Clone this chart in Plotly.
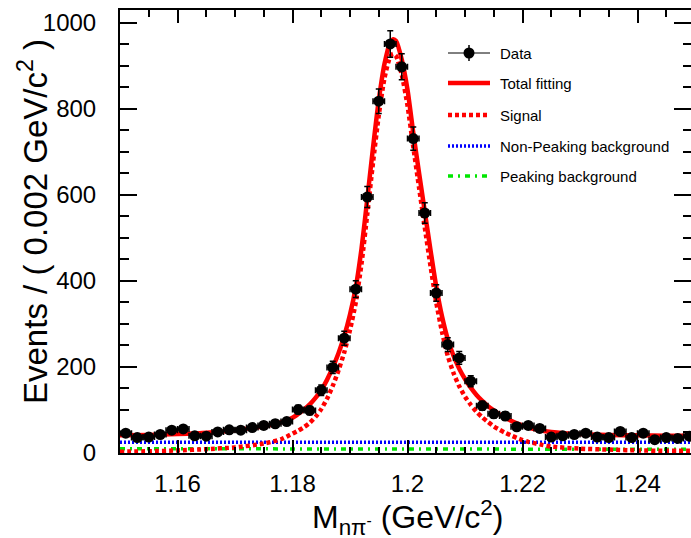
import plotly.graph_objects as go

# ---------------- data ----------------
bin_centers = [1.151, 1.153, 1.155, 1.157, 1.159, 1.161, 1.163, 1.165, 1.167, 1.169,
               1.171, 1.173, 1.175, 1.177, 1.179, 1.181, 1.183, 1.185, 1.187, 1.189,
               1.191, 1.193, 1.195, 1.197, 1.199, 1.201, 1.203, 1.205, 1.207, 1.209,
               1.211, 1.213, 1.215, 1.217, 1.219, 1.221, 1.223, 1.225, 1.227, 1.229,
               1.231, 1.233, 1.235, 1.237, 1.239, 1.241, 1.243, 1.245, 1.247, 1.249]
counts = [46, 36, 37, 43, 53, 56, 40, 39, 49, 54,
          53, 59, 64, 68, 73, 101, 99, 146, 199, 267,
          381, 595, 818, 951, 898, 731, 558, 372, 252, 221,
          167, 110, 91, 86, 61, 64, 57, 37, 40, 43,
          46, 37, 36, 50, 36, 46, 31, 36, 34, 39]
count_errors = [6.8, 6.0, 6.1, 6.6, 7.3, 7.5, 6.3, 6.2, 7.0, 7.3,
                7.3, 7.7, 8.0, 8.2, 8.5, 10.0, 9.9, 12.1, 14.1, 16.3,
                19.5, 24.4, 28.6, 30.8, 30.0, 27.0, 23.6, 19.3, 15.9, 14.9,
                12.9, 10.5, 9.5, 9.3, 7.8, 8.0, 7.5, 6.1, 6.3, 6.6,
                6.8, 6.1, 6.0, 7.1, 6.0, 6.8, 5.6, 6.0, 5.8, 6.2]
bin_half_width = 0.001

fit_x = [1.150, 1.155, 1.160, 1.165, 1.170, 1.175, 1.178,
         1.180, 1.181, 1.182, 1.183, 1.184, 1.185, 1.186, 1.187, 1.188, 1.189,
         1.190, 1.191, 1.192, 1.193, 1.194, 1.195, 1.196, 1.197, 1.1975, 1.198, 1.199,
         1.200, 1.201, 1.202, 1.203, 1.204, 1.205, 1.206, 1.207, 1.208, 1.209,
         1.210, 1.211, 1.212, 1.213, 1.214, 1.215, 1.216, 1.217, 1.218, 1.219,
         1.220, 1.221, 1.223, 1.225, 1.230, 1.235, 1.240, 1.245, 1.250]
total_fit = [41, 42, 44, 47, 53, 62, 71,
             82, 91, 101, 113, 128, 146, 170, 199, 232, 272,
             322, 385, 475, 590, 710, 820, 905, 955, 962, 958, 915,
             845, 745, 652, 562, 472, 387, 318, 265, 226, 196,
             172, 152, 135, 121, 109, 99, 90, 82, 75, 69,
             64, 59, 53, 49, 44, 42, 41, 40, 40]
signal_fit = [3, 4, 6, 9, 13, 22, 32,
              45, 52, 60, 70, 84, 102, 126, 156, 192, 234,
              286, 350, 440, 555, 675, 785, 872, 922, 928, 923, 880,
              808, 712, 618, 525, 435, 350, 282, 226, 186, 155,
              131, 112, 96, 83, 72, 62, 54, 47, 41, 35,
              30, 26, 20, 15, 10, 8, 6, 5, 5]
bkg_x = [1.150, 1.250]
nonpeaking_bkg = [25, 25]
peaking_bkg = [10, 8.5]

legend_labels = ["Data", "Total fitting", "Signal", "Non-Peaking background", "Peaking background"]
y_ticks = [0, 200, 400, 600, 800, 1000]
x_ticks = [1.16, 1.18, 1.20, 1.22, 1.24]
x_tick_text = ["1.16", "1.18", "1.2", "1.22", "1.24"]

# ---------------- figure ----------------
W, H = 691, 538
L, R, T, B = 120, 0, 10, 85
PW, PH = W - L - R, H - T - B
FONT = "Liberation Sans, Arial, Helvetica, sans-serif"

RED = "#ff0000"
BLUE = "#0000ff"
GREEN = "#00e600"

def px_x(p):
    return (p - L) / PW

def px_y(p):
    return (T + PH - p) / PH

fig = go.Figure()

fig.add_trace(go.Scatter(x=bkg_x, y=peaking_bkg, mode="lines",
                         line=dict(color=GREEN, width=3.5, dash="5px,5px,2px,5px"),
                         showlegend=False, hoverinfo="skip"))
fig.add_trace(go.Scatter(x=bkg_x, y=nonpeaking_bkg, mode="lines",
                         line=dict(color=BLUE, width=3.5, dash="2px,2px"),
                         showlegend=False, hoverinfo="skip"))
fig.add_trace(go.Scatter(x=fit_x, y=signal_fit, mode="lines",
                         line=dict(color=RED, width=4.5, dash="4px,3px", shape="spline", smoothing=0.6),
                         showlegend=False, hoverinfo="skip"))
fig.add_trace(go.Scatter(x=fit_x, y=total_fit, mode="lines",
                         line=dict(color=RED, width=4.5, shape="spline", smoothing=0.6),
                         showlegend=False, hoverinfo="skip"))
fig.add_trace(go.Scatter(x=bin_centers, y=counts, mode="markers",
                         marker=dict(color="black", size=11, symbol="circle"),
                         error_y=dict(type="data", array=count_errors, color="black", thickness=1.5, width=3),
                         error_x=dict(type="constant", value=bin_half_width, color="black", thickness=1.5, width=3),
                         showlegend=False))

# ---------- manual legend ----------
shapes = []
annotations = []
leg_rows = [53, 83, 115, 146, 176]
lx0, lx1, tx = 448, 490, 498
styles = [None,
          dict(color=RED, width=4.5),
          dict(color=RED, width=4.5, dash="4px,3px"),
          dict(color=BLUE, width=3.5, dash="2px,2px"),
          dict(color=GREEN, width=3.5, dash="5px,5px,2px,5px")]
for i, (lab, yy) in enumerate(zip(legend_labels, leg_rows)):
    if i == 0:
        shapes.append(dict(type="line", xref="paper", yref="paper",
                           x0=px_x(lx0), x1=px_x(lx1), y0=px_y(yy), y1=px_y(yy),
                           line=dict(color="black", width=1)))
        shapes.append(dict(type="line", xref="paper", yref="paper",
                           x0=px_x(469), x1=px_x(469), y0=px_y(yy - 8), y1=px_y(yy + 8),
                           line=dict(color="black", width=1.5)))
        shapes.append(dict(type="circle", xref="paper", yref="paper",
                           x0=px_x(469 - 5.5), x1=px_x(469 + 5.5), y0=px_y(yy - 5.5), y1=px_y(yy + 5.5),
                           fillcolor="black", line=dict(color="black", width=0)))
    else:
        shapes.append(dict(type="line", xref="paper", yref="paper",
                           x0=px_x(lx0), x1=px_x(lx1), y0=px_y(yy), y1=px_y(yy),
                           line=styles[i]))
    annotations.append(dict(text=lab, xref="paper", yref="paper", x=px_x(tx), y=px_y(yy),
                            xanchor="left", yanchor="middle", showarrow=False,
                            font=dict(family=FONT, size=15, color="black")))

# axis titles
annotations.append(dict(text="Events / ( 0.002 GeV/c<sup>2</sup> )", xref="paper", yref="paper",
                        x=px_x(33), y=px_y(222), xanchor="center", yanchor="middle",
                        textangle=-90, showarrow=False,
                        font=dict(family=FONT, size=33, color="black")))
annotations.append(dict(text="M<sub>nπ<sup>-</sup></sub> (GeV/c<sup>2</sup>)", xref="x", yref="paper",
                        x=1.2, y=px_y(517), xanchor="center", yanchor="middle",
                        showarrow=False,
                        font=dict(family=FONT, size=32, color="black")))

x_max = 1.15 + PW / 5750.0

fig.update_layout(
    width=W, height=H,
    margin=dict(l=L, r=R, t=T, b=B, pad=0, autoexpand=False),
    paper_bgcolor="white", plot_bgcolor="white",
    showlegend=False,
    font=dict(family=FONT, color="black"),
    shapes=shapes, annotations=annotations,
    xaxis=dict(range=[1.15, x_max], tickvals=x_ticks, ticktext=x_tick_text,
               automargin=False,
               ticks="inside", ticklen=13, tickwidth=2, tickcolor="black",
               showline=True, linecolor="black", linewidth=2, mirror="allticks",
               showgrid=False, zeroline=False,
               tickfont=dict(family=FONT, size=24, color="black"),
               ticklabelstandoff=8,
               minor=dict(dtick=0.005, tick0=1.15, ticks="inside", ticklen=6.5,
                          tickwidth=2, tickcolor="black", showgrid=False)),
    yaxis=dict(range=[0, 1030], tickvals=y_ticks,
               automargin=False,
               ticks="inside", ticklen=17, tickwidth=2, tickcolor="black",
               showline=True, linecolor="black", linewidth=2, mirror="allticks",
               showgrid=False, zeroline=False,
               tickfont=dict(family=FONT, size=24, color="black"),
               ticklabelstandoff=17,
               minor=dict(dtick=50, tick0=0, ticks="inside", ticklen=8.5,
                          tickwidth=2, tickcolor="black", showgrid=False)),
)

fig.write_html("out.html", config={"displayModeBar": False},
               post_script="document.body.style.margin='0px';document.body.style.padding='0px';")
